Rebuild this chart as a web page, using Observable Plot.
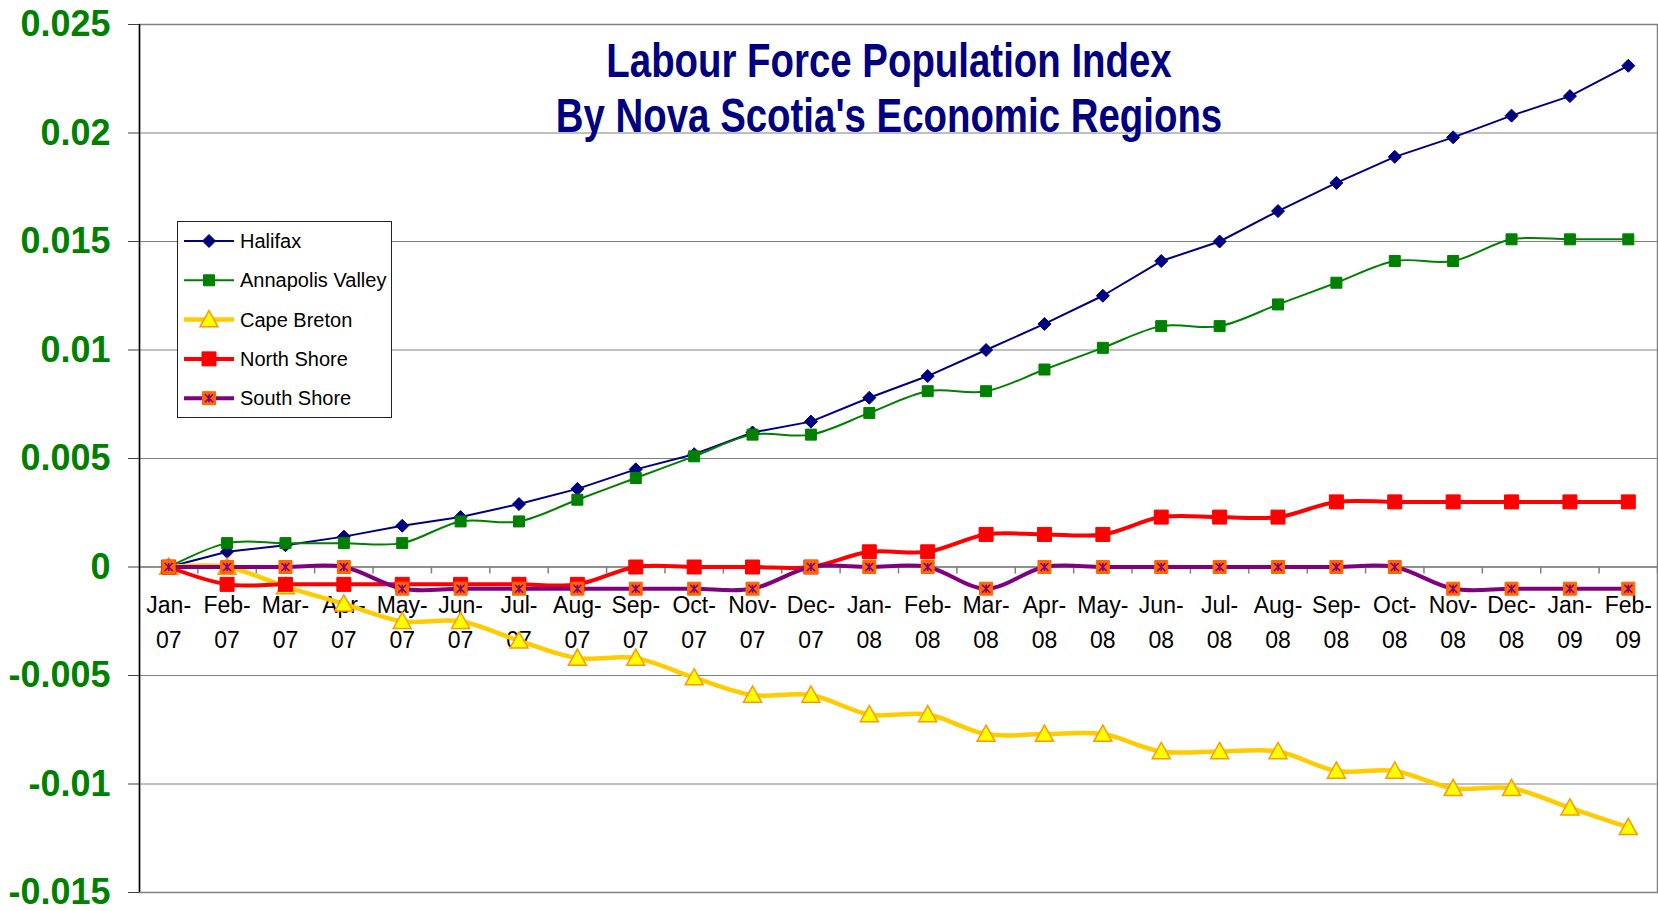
<!DOCTYPE html>
<html><head><meta charset="utf-8">
<script src="https://cdn.jsdelivr.net/npm/d3@7"></script>
<script src="https://cdn.jsdelivr.net/npm/@observablehq/plot@0.6"></script>
<style>
body{margin:0;background:#fff;}
#wrap{position:relative;width:1658px;height:911px;font-family:"Liberation Sans",Arial,sans-serif;overflow:hidden;}
#title{position:absolute;left:889px;top:33px;transform:translateX(-50%) scaleX(0.8);white-space:nowrap;text-align:center;color:#000080;font-weight:bold;font-size:48px;line-height:55px;}
#legend{position:absolute;left:177px;top:221px;width:215px;height:197px;}
</style></head><body>
<div id="wrap"><div id="chart"></div>
<div id="title">Labour Force Population Index<br>By Nova Scotia's Economic Regions</div>
<div id="legend"></div></div>
<script>
const months = ["Jan-07","Feb-07","Mar-07","Apr-07","May-07","Jun-07","Jul-07","Aug-07","Sep-07","Oct-07","Nov-07","Dec-07",
  "Jan-08","Feb-08","Mar-08","Apr-08","May-08","Jun-08","Jul-08","Aug-08","Sep-08","Oct-08","Nov-08","Dec-08","Jan-09","Feb-09"];
const halifax = [0,0.0007,0.001,0.0014,0.0019,0.0023,0.0029,0.0036,0.0045,0.0052,0.0062,0.0067,0.0078,0.0088,0.0100,0.0112,0.0125,0.0141,0.0150,0.0164,0.0177,0.0189,0.0198,0.0208,0.0217,0.0231];
const annapolisValley = [0,0.0011,0.0011,0.0011,0.0011,0.0021,0.0021,0.0031,0.0041,0.0051,0.0061,0.0061,0.0071,0.0081,0.0081,0.0091,0.0101,0.0111,0.0111,0.0121,0.0131,0.0141,0.0141,0.0151,0.0151,0.0151];
const capeBreton = [0,0,-0.0009,-0.0017,-0.0025,-0.0025,-0.0034,-0.0042,-0.0042,-0.0051,-0.0059,-0.0059,-0.0068,-0.0068,-0.0077,-0.0077,-0.0077,-0.0085,-0.0085,-0.0085,-0.0094,-0.0094,-0.0102,-0.0102,-0.0111,-0.0120];
const northShore = [0,-0.0008,-0.0008,-0.0008,-0.0008,-0.0008,-0.0008,-0.0008,0,0,0,0,0.0007,0.0007,0.0015,0.0015,0.0015,0.0023,0.0023,0.0023,0.0030,0.0030,0.0030,0.0030,0.0030,0.0030];
const southShore = [0,0,0,0,-0.001,-0.001,-0.001,-0.001,-0.001,-0.001,-0.001,0,0,0,-0.001,0,0,0,0,0,0,0,-0.001,-0.001,-0.001,-0.001];
const yTicks = [-0.015,-0.01,-0.005,0,0.005,0.01,0.015,0.02,0.025];
const yTickLabels = ["-0.015","-0.01","-0.005","0","0.005","0.01","0.015","0.02","0.025"];

// custom marker symbols (size = r*r*PI, so r is the half-size)
const half = s => Math.sqrt(s / Math.PI);
const squareSym = {draw(c, s){const r = half(s); c.rect(-r, -r, 2*r, 2*r);}};
const diamondSym = {draw(c, s){const r = half(s); c.moveTo(0,-r); c.lineTo(r,0); c.lineTo(0,r); c.lineTo(-r,0); c.closePath();}};
const triangleSym = {draw(c, s){const r = half(s); c.moveTo(0,-r); c.lineTo(r,r*0.8); c.lineTo(-r,r*0.8); c.closePath();}};
const starSym = {draw(c, s){const r = half(s); c.moveTo(-r,-r); c.lineTo(r,r); c.moveTo(r,-r); c.lineTo(-r,r); c.moveTo(0,-r); c.lineTo(0,r);}};

const series = [
  {name:"Halifax", values:halifax, color:"#000080", width:2, curve:"linear",
    markers:[{symbol:diamondSym, r:6.5, fill:"#000080", stroke:"#000080", sw:1}]},
  {name:"Annapolis Valley", values:annapolisValley, color:"#008000", width:2, curve:"cardinal",
    markers:[{symbol:squareSym, r:5.5, fill:"#008000", stroke:"#008000", sw:1}]},
  {name:"Cape Breton", values:capeBreton, color:"#FFCC00", width:4.5, curve:"cardinal",
    markers:[{symbol:triangleSym, r:9, fill:"#FFFF00", stroke:"#FF9900", sw:1.5}]},
  {name:"North Shore", values:northShore, color:"#FF0000", width:4, curve:"cardinal",
    markers:[{symbol:squareSym, r:7, fill:"#FF0000", stroke:"#FF0000", sw:1}]},
  {name:"South Shore", values:southShore, color:"#800080", width:4, curve:"cardinal",
    markers:[{symbol:squareSym, r:6.5, fill:"#FF6600", stroke:"#FF6600", sw:1},
             {symbol:starSym, r:4, fill:"none", stroke:"#800080", sw:1.6}]}
];

const boundaries = months.map((m, i) => i + 0.5);

const marks = [
  Plot.gridY(yTicks, {stroke:"#808080", strokeOpacity:1, strokeWidth:1}),
  Plot.frame({stroke:"#808080", strokeWidth:1.5}),
  Plot.ruleY([0], {stroke:"#808080", strokeWidth:1.5}),
  Plot.ruleX(boundaries, {x:d => d, y1:() => 0, y2:() => 0, insetBottom:-7, stroke:"#808080", strokeWidth:1.5}),
  Plot.ruleX([-0.5], {stroke:"#000", strokeWidth:1.5}),
  Plot.axisY({ticks:yTicks, tickFormat:d => yTickLabels[yTicks.indexOf(d)], tickSize:11, tickPadding:18,
    fontSize:36, fontWeight:"bold", fill:"#008000", stroke:"#404040", label:null}),
  Plot.text(months, {x:(d, i) => i, y:() => 0, text:d => d.replace("-", "-\n"), lineAnchor:"top", lineHeight:1.5,
    dy:22, fontSize:23, fill:"#000", textAnchor:"middle"})
];
for (const s of series) {
  const rows = s.values.map((v, i) => ({i, v}));
  marks.push(Plot.line(rows, {x:"i", y:"v", stroke:s.color, strokeWidth:s.width, curve:s.curve, tension:0}));
  for (const m of s.markers) {
    marks.push(Plot.dot(rows, {x:"i", y:"v", symbol:m.symbol, r:m.r, fill:m.fill, stroke:m.stroke, strokeWidth:m.sw}));
  }
}

const chart = Plot.plot({
  width:1658, height:911,
  marginLeft:139, marginRight:1, marginTop:24, marginBottom:19,
  style:{fontFamily:"'Liberation Sans', Arial, sans-serif", background:"#fff"},
  x:{type:"linear", domain:[-0.5, months.length - 0.5], axis:null},
  y:{domain:[-0.015, 0.025], axis:null},
  marks
});
document.getElementById("chart").appendChild(chart);

// legend
const lg = d3.select("#legend").append("svg").attr("width", 215).attr("height", 197)
  .style("font-family", "'Liberation Sans', Arial, sans-serif");
lg.append("rect").attr("x", 0.5).attr("y", 0.5).attr("width", 214).attr("height", 196)
  .attr("fill", "#fff").attr("stroke", "#222");
series.forEach((s, k) => {
  const g = lg.append("g").attr("transform", `translate(0,${20 + k * 39.3})`);
  g.append("line").attr("x1", 7).attr("x2", 57).attr("stroke", s.color).attr("stroke-width", s.width);
  for (const m of s.markers) {
    g.append("path").attr("transform", "translate(32,0)")
      .attr("d", d3.symbol().type(m.symbol).size(m.r * m.r * Math.PI)())
      .attr("fill", m.fill).attr("stroke", m.stroke).attr("stroke-width", m.sw);
  }
  g.append("text").attr("x", 63).attr("y", 0).attr("dy", "0.35em").attr("font-size", 20).attr("fill", "#000").text(s.name);
});
</script>
</body></html>
